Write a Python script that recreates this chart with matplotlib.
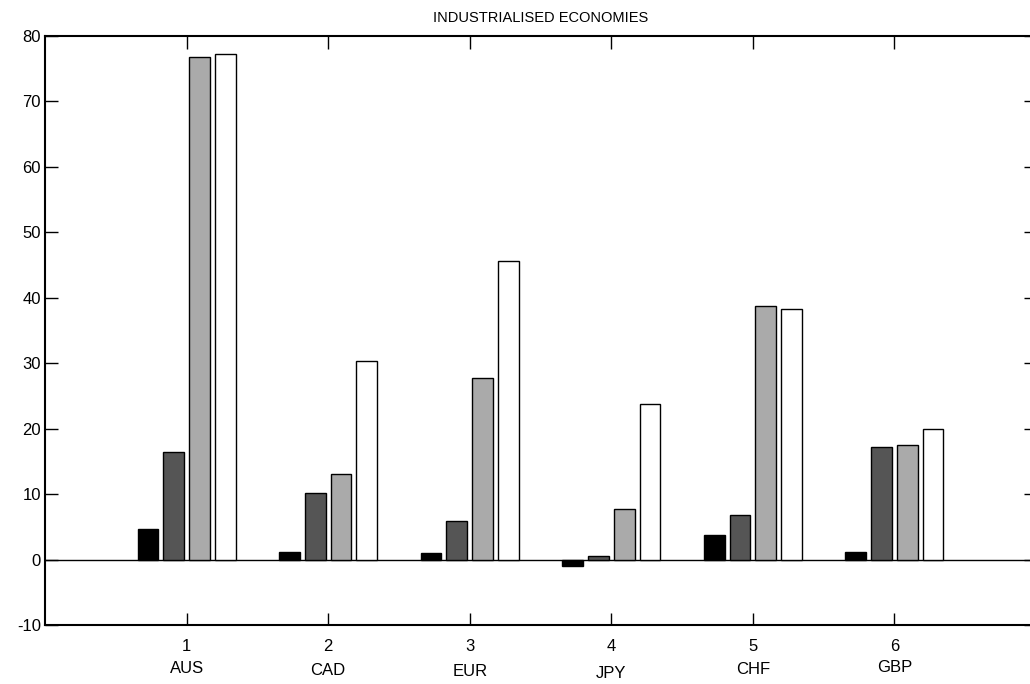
import matplotlib
matplotlib.use("Agg")
import matplotlib.pyplot as plt
import numpy as np

plt.rcParams['font.family'] = ['Liberation Sans', 'DejaVu Sans']
plt.rcParams['axes.unicode_minus'] = False

groups = [1, 2, 3, 4, 5, 6]
currencies = ["AUS", "CAD", "EUR", "JPY", "CHF", "GBP"]
label_y = [-16.6, -16.9, -17.1, -17.35, -16.8, -16.5]
series1 = [4.6, 1.2, 1.0, -1.0, 3.7, 1.1]
series2 = [16.4, 10.2, 5.9, 0.5, 6.75, 17.2]
series3 = [76.8, 13.0, 27.8, 7.8, 38.7, 17.45]
series4 = [77.2, 30.4, 45.6, 23.8, 38.3, 19.95]
colors = ["#000000", "#555555", "#aaaaaa", "#ffffff"]

fig = plt.figure(figsize=(10.30, 6.84), dpi=100)
ax = fig.add_axes([45/1030, 1 - 625/684, (1036 - 45)/1030, (625 - 36)/684])

step = 0.182
width = 0.147
x = np.array(groups, dtype=float)
for i, (vals, c) in enumerate(zip([series1, series2, series3, series4], colors)):
    ax.bar(x + (i - 1.5) * step, vals, width=width, color=c, edgecolor="black",
           linewidth=1.0, zorder=3)

ax.axhline(0, color="black", linewidth=1.0, zorder=2)
ax.set_xlim(0, 7)
ax.set_ylim(-10, 80)
ax.set_xticks(groups)
ax.set_xticklabels([str(g) for g in groups])
ax.set_yticks(np.arange(-10, 81, 10))
ax.tick_params(axis="both", direction="in", length=9, width=1.0, labelsize=12,
               top=True, right=True)
ax.tick_params(axis="x", pad=10)
ax.tick_params(axis="y", pad=3)
for s in ax.spines.values():
    s.set_linewidth(1.5)

for g, lab, ly in zip(groups, currencies, label_y):
    ax.text(g, ly, lab, ha="center", va="center", fontsize=12, clip_on=False)

ax.set_title("INDUSTRIALISED ECONOMIES", fontsize=10.5, pad=10)

fig.savefig("out.png", dpi=100)
